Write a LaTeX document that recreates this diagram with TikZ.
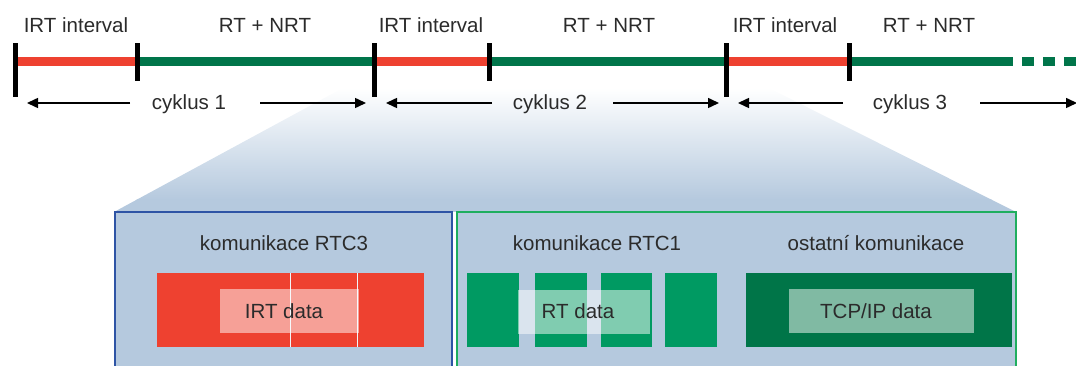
\documentclass[tikz,border=0pt]{standalone}
\usepackage{fontspec}
\setmainfont{Liberation Sans}
\usetikzlibrary{arrows.meta}
\definecolor{irtred}{HTML}{EE4130}
\definecolor{bargreen}{HTML}{00754A}
\definecolor{rtgreen}{HTML}{009A62}
\definecolor{tcpgreen}{HTML}{007548}
\definecolor{boxbg}{HTML}{B5C9DE}
\definecolor{blueframe}{HTML}{2E54A5}
\definecolor{greenframe}{HTML}{1FAE5F}
\definecolor{txt}{HTML}{2B2B2B}
\begin{document}
\begin{tikzpicture}[x=1pt,y=-1pt,
  lbl/.style={font=\fontsize{20.5}{24}\selectfont, text=txt, anchor=base, inner sep=0pt},
  cyc/.style={-{Triangle[length=11pt,width=10pt]}, line width=1.5pt, black},
  overlay/.style={fill=white, opacity=0.5},
  divider/.style={draw=white!80!boxbg, line width=0.9pt}]
\useasboundingbox (0,0) rectangle (1076,366);
% zoom trapezoid
\begin{scope}
  \clip (376,70) -- (733,70) -- (1016,212) -- (114,212) -- cycle;
  \shade[top color=white, bottom color=boxbg] (114,88) rectangle (1016,200);
  \fill[boxbg] (114,199) rectangle (1016,214);
\end{scope}
% frames
\draw[blueframe, line width=1.3pt, fill=boxbg] (115,212) rectangle (452,375);
\draw[greenframe, line width=1.3pt, fill=boxbg] (457,212) rectangle (1016,375);
% timeline bar
\fill[irtred] (15,57) rectangle (137,66);
\fill[bargreen] (137,57) rectangle (375,66);
\fill[irtred] (375,57) rectangle (490,66);
\fill[bargreen] (490,57) rectangle (727,66);
\fill[irtred] (727,57) rectangle (850,66);
\fill[bargreen] (850,57) rectangle (1013,66);
\fill[bargreen] (1022,57) rectangle (1034,66);
\fill[bargreen] (1043,57) rectangle (1055,66);
\fill[bargreen] (1064,57) rectangle (1076,66);
% ticks
\fill[black] (13,43) rectangle (18,97);
\fill[black] (372,43) rectangle (377,97);
\fill[black] (724,43) rectangle (729,97);
\fill[black] (135,43) rectangle (140,81);
\fill[black] (487,43) rectangle (492,81);
\fill[black] (847,43) rectangle (852,81);
% top labels
\node[lbl] (irt1) at (76,33) {IRT interval};
\node[lbl] (rt1) at (265,33) {RT + NRT};
\node[lbl] (irt2) at (431,33) {IRT interval};
\node[lbl] (rt2) at (609,33) {RT + NRT};
\node[lbl] (irt3) at (785,33) {IRT interval};
\node[lbl] (rt3) at (929,33) {RT + NRT};
% cycles
\node[lbl] (cyk1) at (189,110) {cyklus 1};
\node[lbl] (cyk2) at (550,110) {cyklus 2};
\node[lbl] (cyk3) at (910,110) {cyklus 3};
\coordinate (c1a) at (130,103); \coordinate (c1b) at (27,103);
\coordinate (c1c) at (260,103); \coordinate (c1d) at (366,103);
\coordinate (c2a) at (492,103); \coordinate (c2b) at (386,103);
\coordinate (c2c) at (613,103); \coordinate (c2d) at (719,103);
\coordinate (c3a) at (843,103); \coordinate (c3b) at (738,103);
\coordinate (c3c) at (980,103); \coordinate (c3d) at (1077,103);
\draw[cyc] (c1a) -- (c1b);
\draw[cyc] (c1c) -- (c1d);
\draw[cyc] (c2a) -- (c2b);
\draw[cyc] (c2c) -- (c2d);
\draw[cyc] (c3a) -- (c3b);
\draw[cyc] (c3c) -- (c3d);
% RTC3
\node[lbl] (rtc3) at (284,250) {komunikace RTC3};
\fill[irtred] (157,273) rectangle (424,347);
\draw[divider] (290,273) -- (290,347);
\draw[divider] (357,273) -- (357,347);
\fill[overlay] (220,289) rectangle (359,333);
\node[lbl] (irtdata) at (284,318) {IRT data};
% RTC1
\node[lbl] (rtc1) at (597,250) {komunikace RTC1};
\fill[rtgreen] (467,273) rectangle (519,347);
\fill[rtgreen] (535,273) rectangle (587,347);
\fill[rtgreen] (601,273) rectangle (652,347);
\fill[rtgreen] (665,273) rectangle (717,347);
\fill[overlay] (518,290) rectangle (650,334);
\node[lbl] (rtdata) at (578,318) {RT data};
% other
\node[lbl] (ost) at (876,250) {ostatní komunikace};
\fill[tcpgreen] (746,273) rectangle (1012,347);
\fill[overlay] (789,289) rectangle (974,333);
\node[lbl] (tcp) at (876,318) {TCP/IP data};
\end{tikzpicture}
\end{document}
